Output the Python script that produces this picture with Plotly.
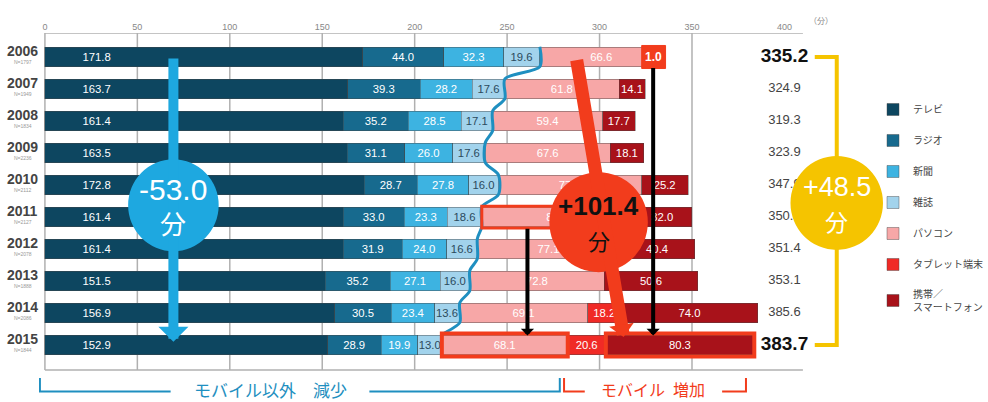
import plotly.graph_objects as go

# ---------------- data ----------------
years = ['2006', '2007', '2008', '2009', '2010', '2011', '2012', '2013', '2014', '2015']
n_samples = ['N=1797', 'N=1949', 'N=1834', 'N=2236', 'N=2112', 'N=2127', 'N=2078', 'N=1888', 'N=2086', 'N=1844']
tv = [171.8, 163.7, 161.4, 163.5, 172.8, 161.4, 161.4, 151.5, 156.9, 152.9]
radio = [44.0, 39.3, 35.2, 31.1, 28.7, 33.0, 31.9, 35.2, 30.5, 28.9]
newspaper = [32.3, 28.2, 28.5, 26.0, 27.8, 23.3, 24.0, 27.1, 23.4, 19.9]
magazine = [19.6, 17.6, 17.1, 17.6, 16.0, 18.6, 16.6, 16.0, 13.6, 13.0]
pc = [66.6, 61.8, 59.4, 67.6, 77.4, 81.7, 77.1, 72.8, 69.1, 68.1]
tablet = [None, None, None, None, None, None, None, None, 18.2, 20.6]
mobile = [1.0, 14.1, 17.7, 18.1, 25.2, 32.0, 40.4, 50.6, 74.0, 80.3]
totals = [335.2, 324.9, 319.3, 323.9, 347.9, 350.0, 351.4, 353.1, 385.6, 383.7]
series_names = ['テレビ', 'ラジオ', '新聞', '雑誌', 'パソコン', 'タブレット端末', '携帯／<br>スマートフォン']
series_values = [tv, radio, newspaper, magazine, pc, tablet, mobile]
x_ticks = [0, 50, 100, 150, 200, 250, 300, 350, 400]
grid_vals = [0, 50, 100, 150, 200, 250, 300, 350]
change_non_mobile = '-53.0'
change_mobile = '+101.4'
change_total = '+48.5'

# ---------------- style ----------------
colors = ['#0d4660', '#176a8e', '#3db3e1', '#a2d3ec', '#f7a7a7', '#f02a26', '#a8121a']
text_colors = ['white', 'white', 'white', '#2b4a5c', 'white', 'white', 'white']
RED = '#f23c1c'
BLUE = '#1ea8e0'
LINE_BLUE = '#1f8fc0'
YELLOW = '#f5c400'
FONT = 'Liberation Sans, Arial, Noto Sans CJK JP, sans-serif'
JFONT = 'Noto Sans CJK JP, sans-serif'

W, H = 988, 402
ML, MR, MT, MB = 39, 0, 33, 0
XR = [-3.2, 502]
YR = [10.78, -0.75]
PXX = (W - ML - MR) / (XR[1] - XR[0])
PXY = (H - MT - MB) / (YR[0] - YR[1])

idx = list(range(len(years)))

fig = go.Figure()

for k, (name, vals) in enumerate(zip(series_names, series_values)):
    texts = []
    for i, v in enumerate(vals):
        if v is None:
            texts.append('')
        elif k == 6 and i == 0:
            texts.append('')
        elif k == 0:
            texts.append('\u00a0' * 11 + f'{v:.1f}')
        else:
            texts.append(f'{v:.1f}')
    fig.add_trace(go.Bar(
        y=idx, x=vals, orientation='h', name=name,
        marker=dict(color=colors[k], line=dict(color='rgba(70,70,70,0.55)', width=0.8)),
        width=0.6, text=texts, textposition='inside', textangle=0,
        insidetextanchor='start' if k == 0 else 'middle',
        insidetextfont=dict(family=FONT, size=12, color=text_colors[k]),
        legendgroup=name, hoverinfo='skip',
    ))

# cumulative helpers
def cum_until(k, i):
    s = 0.0
    for j in range(k):
        v = series_values[j][i]
        s += v if v else 0.0
    return s

non_mobile_end = [cum_until(4, i) for i in idx]

# blue separating line
lx, ly = [], []
for i in idx:
    lx += [non_mobile_end[i], non_mobile_end[i]]
    ly += [i - 0.32, i + 0.3 if i < 9 else i - 0.3]
fig.add_trace(go.Scatter(x=lx, y=ly, mode='lines', line=dict(color=LINE_BLUE, width=3, shape='spline', smoothing=0.8),
                         showlegend=False, hoverinfo='skip'))

# totals column
TOTAL_X = 400
fig.add_trace(go.Scatter(
    x=[TOTAL_X] * len(years), y=idx, mode='text',
    text=[f'<b>{t:.1f}</b>' if i in (0, 9) else f'{t:.1f}' for i, t in enumerate(totals)],
    textfont=dict(family=FONT, size=[19 if i in (0, 9) else 13 for i in idx],
                  color=['#111' if i in (0, 9) else '#444' for i in idx]),
    showlegend=False, hoverinfo='skip', cliponaxis=False))

shapes = []
# grid lines
for g in grid_vals:
    shapes.append(dict(type='line', xref='x', yref='y', x0=g, x1=g, y0=-0.75, y1=9.78,
                       line=dict(color='#b0b0b0', width=1.5), layer='below'))
for yy in (-0.75, 9.78):
    shapes.append(dict(type='line', xref='x', yref='y', x0=0, x1=410, y0=yy, y1=yy,
                       line=dict(color='#b0b0b0', width=1.5), layer='below'))

def circle(cx, cy, rpx, color):
    return dict(type='circle', xref='x', yref='y', x0=cx - rpx / PXX, x1=cx + rpx / PXX,
                y0=cy - rpx / PXY, y1=cy + rpx / PXY, fillcolor=color, line=dict(width=0), layer='above')

def box(x0, x1, i, color, width, fill=None, pad=0.34):
    return dict(type='rect', xref='x', yref='y', x0=x0, x1=x1, y0=i - pad, y1=i + pad,
                line=dict(color=color, width=width), fillcolor=fill if fill else 'rgba(0,0,0,0)', layer='above')

# highlight boxes
end06 = cum_until(7, 0)
shapes.append(box(end06 - 12.5, end06 + 0.4, 0, RED, 1, fill=RED, pad=0.36))
shapes.append(box(non_mobile_end[5], non_mobile_end[5] + pc[5], 5, RED, 3))
shapes.append(box(non_mobile_end[9], non_mobile_end[9] + pc[9], 9, RED, 4, pad=0.36))
mob15 = cum_until(6, 9)
shapes.append(box(mob15, mob15 + mobile[9], 9, RED, 4, pad=0.36))

# circles
BLUE_C = (69.5, 4.63)
RED_C = (299.5, 5.16)
YEL_C = (428.3, 4.56)
shapes.append(circle(*BLUE_C, 46, BLUE))
shapes.append(circle(*RED_C, 50, RED))

# yellow bracket
shapes.append(dict(type='path', xref='x', yref='y',
                   path=f'M 416.4,0 L {YEL_C[0]},0 L {YEL_C[0]},9 L 416.4,9',
                   line=dict(color=YELLOW, width=4), layer='above'))
shapes.append(circle(*YEL_C, 47, YELLOW))

# bottom brackets
shapes.append(dict(type='path', xref='x', yref='y',
                   path='M -2.7,10.03 L -2.7,10.45 L 68,10.45', line=dict(color=LINE_BLUE, width=2), layer='above'))
shapes.append(dict(type='path', xref='x', yref='y',
                   path='M 175.5,10.45 L 278.5,10.45 L 278.5,10.03', line=dict(color=LINE_BLUE, width=2), layer='above'))
shapes.append(dict(type='path', xref='x', yref='y',
                   path='M 280.8,10.03 L 280.8,10.45 L 292,10.45', line=dict(color=RED, width=2), layer='above'))
shapes.append(dict(type='path', xref='x', yref='y',
                   path='M 366.3,10.45 L 379.2,10.45 L 379.2,10.03', line=dict(color=RED, width=2), layer='above'))

annotations = []

# year labels and sample sizes, left of the plot
LABEL_PX = 22.5
label_paper_x = (LABEL_PX - ML) / (W - ML - MR)
for i, (y, n) in enumerate(zip(years, n_samples)):
    annotations.append(dict(x=label_paper_x, y=i - 0.2, xref='paper', yref='y', text=f'<b>{y}</b>',
                            showarrow=False, xanchor='center', font=dict(family=FONT, size=14, color='#444')))
    annotations.append(dict(x=label_paper_x, y=i + 0.17, xref='paper', yref='y', text=n,
                            showarrow=False, xanchor='center', font=dict(family=FONT, size=5, color='#999')))

def arrow(x0, y0, x1, y1, color, width, size):
    return dict(x=x1, y=y1, ax=x0, ay=y0, xref='x', yref='y', axref='x', ayref='y', text='',
                showarrow=True, arrowhead=1, arrowsize=size, arrowwidth=width, arrowcolor=color, standoff=0)

annotations.append(arrow(BLUE_C[0], 0.0, BLUE_C[0], 8.9, BLUE, 10, 0.5))
annotations.append(arrow(287.5, 0.05, 313.0, 8.75, RED, 13, 0.32))
annotations.append(arrow(329.0, 0.3, 329.0, 8.7, 'black', 4, 0.55))
annotations.append(arrow(261.0, 5.32, 261.0, 8.7, 'black', 4, 0.55))

annotations.append(dict(x=end06 - 6, y=0, xref='x', yref='y', text='<b>1.0</b>', showarrow=False,
                        font=dict(family=FONT, size=12, color='white')))

def circle_text(c, value, color, size):
    return [dict(x=c[0], y=c[1] - 0.5, xref='x', yref='y', text=value, showarrow=False,
                 font=dict(family=FONT, size=size, color=color)),
            dict(x=c[0], y=c[1] + 0.55, xref='x', yref='y', text='分', showarrow=False,
                 font=dict(family=JFONT, size=size - 4, color=color))]

annotations += circle_text(BLUE_C, change_non_mobile, 'white', 30)
annotations += circle_text(RED_C, '<b>' + change_mobile + '</b>', '#111', 26)
annotations += circle_text(YEL_C, change_total, 'white', 27)

annotations.append(dict(x=122, y=10.38, xref='x', yref='y', text='モバイル以外\u3000減少', showarrow=False,
                        font=dict(family=JFONT, size=17, color=LINE_BLUE)))
annotations.append(dict(x=329, y=10.38, xref='x', yref='y', text='モバイル\u2002増加', showarrow=False,
                        font=dict(family=JFONT, size=16, color=RED)))
annotations.append(dict(x=(420 - XR[0]) / (XR[1] - XR[0]), y=1, xref='paper', yref='paper', yanchor='bottom',
                        xanchor='center', yshift=5, text='（分）', showarrow=False,
                        font=dict(family=JFONT, size=8, color='#888')))

fig.update_layout(
    width=W, height=H, margin=dict(l=ML, r=MR, t=MT, b=MB),
    paper_bgcolor='white', plot_bgcolor='white',
    barmode='stack', bargap=0.4,
    font=dict(family=FONT),
    xaxis=dict(range=XR, side='top', tickvals=x_ticks, ticktext=[str(v) for v in x_ticks],
               showgrid=False, zeroline=False, showline=False, ticks='',
               tickfont=dict(size=9, color='#888')),
    yaxis=dict(range=YR, showticklabels=False, showgrid=False, zeroline=False, showline=False, ticks=''),
    shapes=shapes, annotations=annotations,
    uniformtext=dict(minsize=11, mode='show'),
    showlegend=True,
    legend=dict(x=0.893, y=0.832, xanchor='left', yanchor='top', tracegroupgap=12,
                font=dict(family=JFONT, size=10, color='#444'), bgcolor='rgba(0,0,0,0)', itemclick=False),
)

fig.write_html('out.html')
